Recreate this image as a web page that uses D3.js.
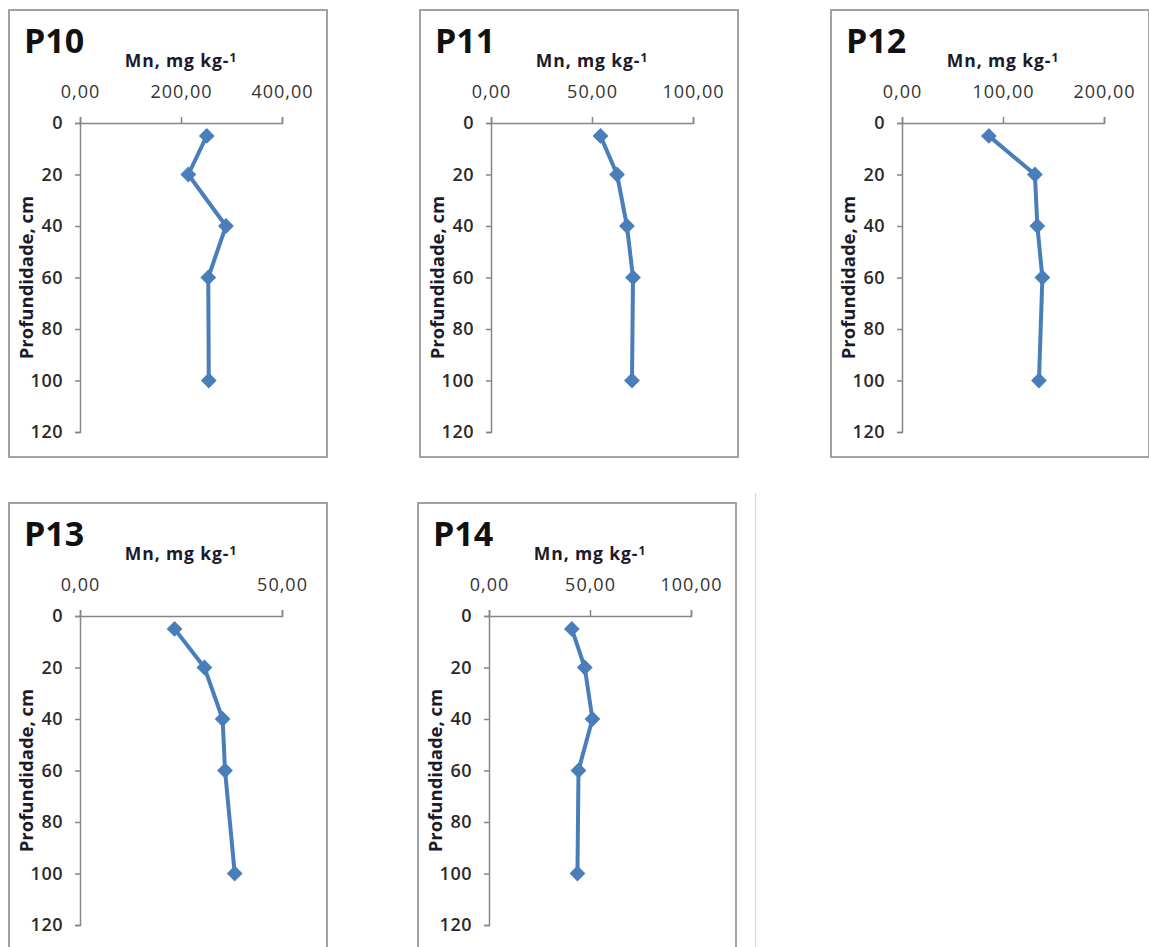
<!DOCTYPE html>
<html lang="pt">
<head>
  <meta charset="UTF-8">
  <title>Mn por profundidade</title>
  <script src="https://d3js.org/d3.v7.min.js"></script>
  <style>
    body {
      margin: 0;
      background: #fff;
      font-family: "Open Sans", sans-serif;
    }
    .frame {
      fill: #fff;
      stroke: #999;
      stroke-width: 1.8px;
    }
    .axis path, .axis line {
      stroke: #868686;
      stroke-width: 1.5px;
    }
    .axis text {
      font-family: "Open Sans", sans-serif;
      font-size: 18px;
      fill: #333;
    }
    .yaxis text {
      font-weight: 600;
      fill: #2a2a2a;
    }
    .line {
      fill: none;
      stroke: #4a7ebb;
      stroke-width: 4px;
      stroke-linejoin: round;
    }
  </style>
</head>
<body>
  <svg id="chart" width="1149" height="947"></svg>
  <script>
    // profundidade (cm) de cada amostra
    const depths = [5, 20, 40, 60, 100];
    const depthTicks = [0, 20, 40, 60, 80, 100, 120];

    const names = ["P10", "P11", "P12", "P13", "P14"];
    const p10 = [251, 214.5, 289, 254, 255];
    const p11 = [54.2, 62.4, 67.3, 70.3, 69.8];
    const p12 = [86, 131.6, 134, 139, 135.6];
    const p13 = [23.4, 30.8, 35.3, 35.9, 38.3];
    const p14 = [41, 47.4, 51.2, 44.3, 43.8];
    const series = [p10, p11, p12, p13, p14];

    // escala de cada eixo x
    const xMax = [400, 100, 200, 50, 100];
    const xTicks = [[0, 200, 400], [0, 50, 100], [0, 100, 200], [0, 50], [0, 50, 100]];

    // layout
    const panelPos = [[9, 10], [420, 10], [831, 10], [9, 503], [418, 503]];
    const panelW = 318, panelH = 447;
    const plot = { left: 71, top: 113, width: 202, height: 309 };

    const svg = d3.select("#chart");
    const fmt = d => d3.format(".2f")(d).replace(".", ",");

    // linha cinza da pagina a direita
    svg.append("line")
      .attr("x1", 755.5).attr("x2", 755.5)
      .attr("y1", 493).attr("y2", 947)
      .attr("stroke", "#d9d9d9")
      .attr("stroke-width", 1.2);

    names.forEach((name, i) => {
      const g = svg.append("g")
        .attr("transform", `translate(${panelPos[i][0]},${panelPos[i][1]})`);

      g.append("rect")
        .attr("class", "frame")
        .attr("width", panelW)
        .attr("height", panelH);

      const x = d3.scaleLinear().domain([0, xMax[i]]).range([0, plot.width]);
      const y = d3.scaleLinear().domain([0, 120]).range([0, plot.height]);

      const inner = g.append("g")
        .attr("transform", `translate(${plot.left},${plot.top})`);

      inner.append("g")
        .attr("class", "axis")
        .call(d3.axisTop(x).tickValues(xTicks[i]).tickFormat(fmt)
          .tickSize(6).tickPadding(19))
        .selectAll("text").attr("letter-spacing", 1);

      inner.append("g")
        .attr("class", "axis yaxis")
        .call(d3.axisLeft(y).tickValues(depthTicks)
          .tickSize(5).tickPadding(12))
        .selectAll("text").attr("letter-spacing", 0.5);

      const pts = depths.map((d, k) => ({ depth: d, value: series[i][k] }));

      inner.append("path")
        .attr("class", "line")
        .attr("d", d3.line().x(d => x(d.value)).y(d => y(d.depth))(pts));

      inner.selectAll(".marker")
        .data(pts)
        .enter()
        .append("path")
        .attr("class", "marker")
        .attr("d", d3.symbol().type(d3.symbolSquare).size(125))
        .attr("transform", d => `translate(${x(d.value)},${y(d.depth)}) rotate(45)`)
        .attr("fill", "#4a7ebb");

      // titulos
      g.append("text")
        .attr("x", 15)
        .attr("y", 43)
        .attr("font-size", 34)
        .attr("font-weight", "bold")
        .attr("fill", "#111")
        .text(name);

      const xt = g.append("text")
        .attr("x", plot.left + plot.width / 2)
        .attr("y", 57)
        .attr("text-anchor", "middle")
        .attr("font-size", 17.5)
        .attr("font-weight", "bold")
        .attr("letter-spacing", 0.9)
        .attr("fill", "#1a1a2a")
        .text("Mn, mg kg-");
      xt.append("tspan")
        .attr("font-size", 12)
        .attr("dy", -5)
        .text("1");

      g.append("text")
        .attr("transform", `translate(18,${plot.top + plot.height / 2}) rotate(-90)`)
        .attr("dy", "0.35em")
        .attr("text-anchor", "middle")
        .attr("font-size", 18.5)
        .attr("font-weight", "bold")
        .attr("fill", "#1a1a2a")
        .text("Profundidade, cm");
    });
  </script>
</body>
</html>
